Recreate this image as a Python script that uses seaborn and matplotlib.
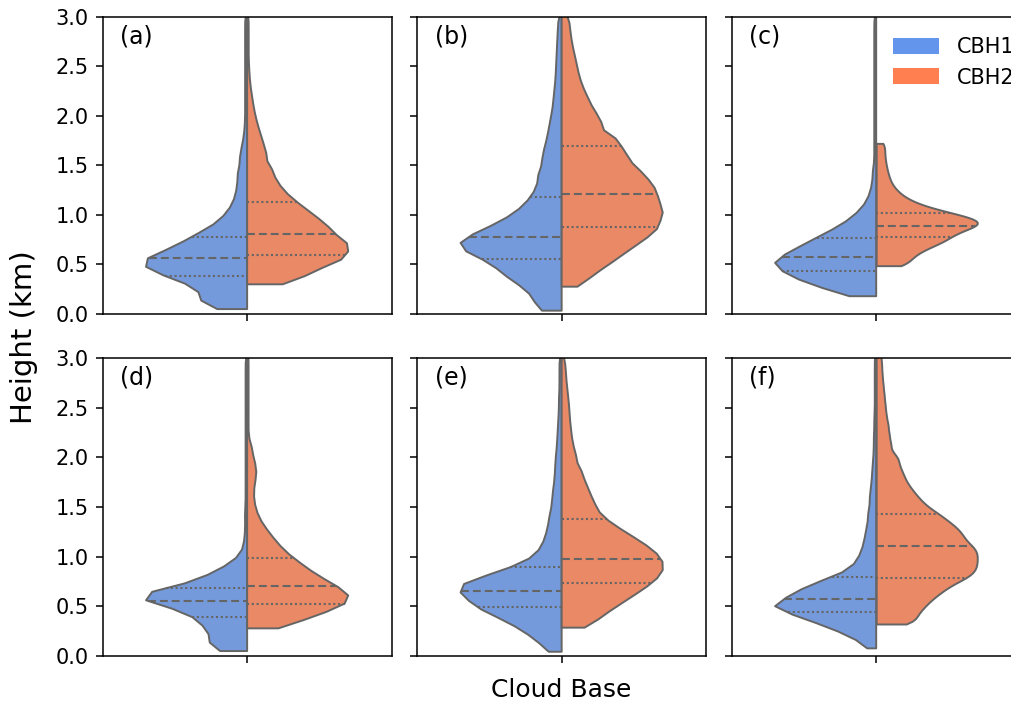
import numpy as np
import pandas as pd
import matplotlib
matplotlib.use("Agg")
import matplotlib.pyplot as plt
from matplotlib.patches import Patch
import seaborn as sns

LAYERS = ["CBH1", "CBH2"]
COLORS = {"CBH1": "cornflowerblue", "CBH2": "coral"}
PANEL_LABELS = ["(a)", "(b)", "(c)", "(d)", "(e)", "(f)"]
Y_TICKS = [0.0, 0.5, 1.0, 1.5, 2.0, 2.5, 3.0]

# Cloud-base heights (km) and the number of observations at each height.
A_CBH1_KM = [0.05, 0.098, 0.145, 0.193, 0.24, 0.288, 0.336, 0.383, 0.429, 0.475, 0.522, 0.568,
             0.621, 0.674, 0.727, 0.78, 0.83, 0.88, 0.93, 0.98, 1.03, 1.08, 1.13, 1.18, 1.23,
             1.28, 1.33, 1.38, 1.43, 1.48,
             1.58, 1.68, 1.78, 1.88, 1.98, 2.08, 2.18, 2.28, 2.38, 2.48, 2.58, 2.68, 2.78, 2.88, 2.98,
             3.20, 3.50, 4.00, 5.00, 6.50, 8.50]
A_CBH1_N = [40, 43, 50, 38, 46, 55, 62, 77, 88, 97, 100, 102,
            91, 79, 68, 57, 46, 36, 29, 24, 20, 16, 14, 12, 11,
            10, 10, 9, 9, 12,
            15, 11, 7, 5, 4, 4, 4, 4, 4, 4, 4, 4, 4, 4, 4,
            3, 2, 2, 1, 1, 1]
A_CBH2_KM = [0.30, 0.35, 0.40, 0.45, 0.50, 0.55, 0.595, 0.65, 0.70, 0.75, 0.807,
             0.86, 0.914, 0.967, 1.02, 1.074, 1.127, 1.18, 1.23, 1.28, 1.33, 1.38, 1.43, 1.48,
             1.58, 1.68, 1.78, 1.88, 1.98, 2.08, 2.18, 2.28, 2.38, 2.48, 2.58, 2.68, 2.78, 2.88, 2.98,
             3.20, 3.50, 4.00, 5.00, 6.50, 8.50]
A_CBH2_N = [50, 48, 58, 69, 79, 90, 100, 102, 102, 98, 93,
            87, 80, 73, 66, 59, 52, 42, 37, 33, 29, 26, 24, 33,
            40, 34, 28, 22, 17, 13, 10, 7, 5, 4, 3, 3, 3, 3, 3,
            3, 2, 2, 1, 1, 1]

B_CBH1_KM = [0.034, 0.086, 0.138, 0.189, 0.241, 0.293, 0.345, 0.397, 0.448, 0.50, 0.552,
             0.598, 0.643, 0.689, 0.734, 0.78, 0.83, 0.879, 0.929, 0.979, 1.028, 1.078, 1.128, 1.177,
             1.227, 1.277, 1.327, 1.377, 1.427, 1.477,
             1.577, 1.677, 1.777, 1.877, 1.977, 2.077, 2.177, 2.277, 2.377, 2.477, 2.577, 2.677,
             2.777, 2.877, 2.977,
             3.20, 3.50, 4.00, 5.00, 6.50, 8.50]
B_CBH1_N = [35, 26, 29, 33, 38, 47, 55, 63, 70, 75, 80,
            87, 95, 101, 100, 97, 86, 76, 66, 55, 48, 42, 37, 32,
            29, 27, 25, 24, 23, 33,
            42, 36, 31, 27, 23, 19, 17, 15, 13, 12, 11, 10, 9, 8, 7,
            10, 8, 8, 6, 4, 3]
B_CBH2_KM = [0.276, 0.326, 0.377, 0.427, 0.478, 0.528, 0.578, 0.629, 0.679, 0.73, 0.78, 0.831, 0.881,
             0.935, 0.99, 1.044, 1.098, 1.153, 1.207,
             1.256, 1.305, 1.354, 1.402, 1.451, 1.50, 1.549, 1.598, 1.646, 1.695, 1.745, 1.795,
             1.895, 1.995, 2.095, 2.195, 2.295, 2.395, 2.495, 2.595, 2.695, 2.795, 2.895, 2.995,
             3.20, 3.50, 4.00, 5.00, 6.50, 8.50]
B_CBH2_N = [20, 20, 27, 33, 40, 46, 53, 59, 66, 72, 79, 85, 92,
            96, 99, 100, 96, 96, 88,
            84, 79, 76, 73, 69, 63, 59, 58, 55, 52, 48, 66,
            76, 66, 54, 46, 38, 32, 28, 24, 20, 17, 15, 13,
            12, 9, 8, 6, 3, 2]

C_CBH1_KM = [0.18, 0.231, 0.283, 0.334, 0.386, 0.437, 0.483, 0.529, 0.575,
             0.624, 0.673, 0.721, 0.77, 0.82, 0.87, 0.92, 0.97, 1.02,
             1.07, 1.12, 1.17, 1.22, 1.27, 1.32, 1.37, 1.42, 1.47,
             1.57, 1.67, 1.77, 1.87, 1.97, 2.07, 2.17, 2.27, 2.37, 2.47, 2.57, 2.67, 2.77, 2.87, 2.97,
             3.20, 3.50, 4.00, 5.00, 6.50, 8.50]
C_CBH1_N = [35, 45, 65, 85, 91, 96, 102, 100, 97,
            89, 79, 70, 62, 52, 42, 33, 26, 20,
            15, 11, 8, 7, 5, 4, 4, 3, 5,
            4, 4, 4, 4, 4, 4, 4, 4, 4, 4, 4, 4, 4, 4, 4,
            4, 3, 3, 2, 1, 1]
C_CBH2_KM = [0.488, 0.536, 0.583, 0.631, 0.679, 0.726, 0.774, 0.831, 0.888, 0.932, 0.976, 1.02,
             1.07, 1.12, 1.17, 1.22, 1.27, 1.32, 1.37, 1.42, 1.47, 1.52, 1.57, 1.62, 1.67, 1.722]
C_CBH2_N = [40, 30, 36, 44, 53, 66, 80, 98, 110, 100, 86, 72,
            56, 40, 30, 24, 19, 15, 14, 12, 11, 10, 9, 9, 8, 12]

D_CBH1_KM = [0.047, 0.096, 0.145, 0.194, 0.243, 0.292, 0.341, 0.39, 0.444, 0.498, 0.552,
             0.595, 0.637, 0.68, 0.73, 0.78, 0.83, 0.88, 0.93, 0.98, 1.03, 1.08, 1.13, 1.18,
             1.23, 1.28, 1.33, 1.38, 1.43, 1.48,
             1.58, 1.68, 1.78, 1.88, 1.98, 2.08, 2.18, 2.28, 2.38, 2.48, 2.58, 2.68, 2.78, 2.88, 2.98,
             3.20, 3.50, 4.00, 5.00, 6.50, 8.50]
D_CBH1_N = [40, 38, 36, 36, 37, 42, 47, 53, 68, 88, 102,
            100, 88, 73, 58, 46, 36, 25, 18, 10, 6, 4, 3, 3,
            2, 2, 2, 2, 2, 3,
            3, 3, 3, 3, 3, 3, 3, 3, 3, 3, 3, 3, 3, 3, 3,
            3, 2, 2, 1, 1, 1]
D_CBH2_KM = [0.276, 0.326, 0.376, 0.425, 0.475, 0.525, 0.57, 0.616, 0.661, 0.706,
             0.752, 0.798, 0.844, 0.89, 0.936, 0.982,
             1.032, 1.082, 1.132, 1.182, 1.232, 1.282, 1.332, 1.382, 1.432, 1.482, 1.532, 1.582,
             1.632, 1.682, 1.732, 1.782, 1.832, 1.882, 1.932, 1.982, 2.032, 2.082, 2.132,
             2.232, 2.332, 2.432, 2.532, 2.632, 2.732, 2.832, 2.932, 3.032,
             3.20, 3.50, 4.00, 5.00, 6.50, 8.50]
D_CBH2_N = [45, 47, 62, 78, 94, 99, 102, 97, 91, 85,
            77, 70, 63, 56, 51, 47,
            42, 37, 32, 28, 24, 20, 16, 13, 11, 9, 8, 7,
            7, 7, 8, 9, 10, 10, 9, 7, 6, 5, 6,
            3, 3, 3, 3, 3, 3, 3, 3, 3,
            3, 2, 2, 1, 1, 1]

E_CBH1_KM = [0.04, 0.09, 0.14, 0.189, 0.239, 0.289, 0.339, 0.388, 0.438, 0.488, 0.544, 0.60, 0.656,
             0.703, 0.75, 0.796, 0.843, 0.89, 0.94,
             0.99, 1.04, 1.09, 1.14, 1.19, 1.24, 1.29, 1.34, 1.39, 1.44, 1.49,
             1.59, 1.69, 1.79, 1.89, 1.99, 2.09, 2.19, 2.29, 2.39, 2.49, 2.59, 2.69, 2.79, 2.89, 2.99,
             3.20, 3.50, 4.00, 5.00, 6.50, 8.50]
E_CBH1_N = [18, 15, 21, 27, 34, 41, 49, 57, 70, 82, 95, 102, 98,
            92, 80, 67, 55, 45, 35,
            26, 22, 19, 17, 15, 14, 13, 12, 11, 10, 14,
            18, 15, 13, 12, 11, 9, 8, 7, 6, 5, 5, 4, 4, 4, 4,
            5, 4, 3, 2, 1, 1]
E_CBH2_KM = [0.283, 0.33, 0.38, 0.43, 0.48, 0.53, 0.58, 0.63, 0.68, 0.73, 0.78, 0.83, 0.88, 0.93, 0.98,
             1.03, 1.08, 1.13, 1.18, 1.23, 1.28, 1.33, 1.376,
             1.43, 1.48, 1.53, 1.58, 1.63, 1.68, 1.73, 1.78, 1.83, 1.89,
             1.99, 2.09, 2.19, 2.29, 2.39, 2.49, 2.59, 2.69, 2.79, 2.89, 2.99,
             3.20, 3.50, 4.00, 5.00, 6.50, 8.50]
E_CBH2_N = [32, 29, 36, 44, 51, 58, 66, 73, 80, 88, 93, 97, 100, 99, 97,
            93, 87, 80, 72, 65, 56, 48, 42,
            38, 35, 32, 30, 28, 26, 24, 22, 20, 29,
            30, 24, 20, 18, 16, 15, 13, 11, 9, 8, 6,
            12, 9, 7, 5, 3, 2]

F_CBH1_KM = [0.074, 0.126, 0.178, 0.23, 0.282, 0.333, 0.385, 0.437, 0.481, 0.524, 0.568,
             0.625, 0.682, 0.74, 0.797,
             0.85, 0.90, 0.95, 1.00, 1.05, 1.10, 1.15, 1.20, 1.25, 1.30, 1.35, 1.40, 1.45, 1.50,
             1.60, 1.70, 1.80, 1.90, 2.00, 2.10, 2.20, 2.30, 2.40, 2.50, 2.60, 2.70, 2.80, 2.90, 3.00,
             3.20, 3.50, 4.00, 5.00, 6.50, 8.50]
F_CBH1_N = [12, 15, 24, 37, 52, 67, 82, 92, 100, 100, 97,
            100, 93, 72, 52,
            30, 25, 21, 18, 16, 14, 13, 12, 11, 10, 9, 8, 8, 11,
            14, 11, 9, 8, 6, 5, 5, 4, 4, 3, 3, 3, 3, 3, 3,
            4, 3, 3, 2, 1, 1]
F_CBH2_KM = [0.32, 0.371, 0.422, 0.473, 0.524, 0.576, 0.627, 0.678, 0.729, 0.78,
             0.827, 0.874, 0.921, 0.969, 1.016, 1.063, 1.11,
             1.163, 1.217, 1.27, 1.323, 1.377, 1.43,
             1.48, 1.53, 1.58, 1.63, 1.68, 1.73, 1.78, 1.83, 1.88, 1.93, 1.98, 2.03,
             2.13, 2.23, 2.33, 2.43, 2.53, 2.63, 2.73, 2.83, 2.93, 3.03]
F_CBH2_N = [50, 38, 43, 48, 53, 59, 65, 72, 80, 90,
            92, 95, 97, 97, 96, 95, 97,
            97, 94, 89, 83, 76, 66,
            54, 49, 44, 40, 36, 32, 29, 28, 25, 23, 21, 28,
            30, 26, 24, 20, 18, 16, 14, 12, 11, 10]

PANELS = [
    (A_CBH1_KM, A_CBH1_N, A_CBH2_KM, A_CBH2_N),
    (B_CBH1_KM, B_CBH1_N, B_CBH2_KM, B_CBH2_N),
    (C_CBH1_KM, C_CBH1_N, C_CBH2_KM, C_CBH2_N),
    (D_CBH1_KM, D_CBH1_N, D_CBH2_KM, D_CBH2_N),
    (E_CBH1_KM, E_CBH1_N, E_CBH2_KM, E_CBH2_N),
    (F_CBH1_KM, F_CBH1_N, F_CBH2_KM, F_CBH2_N),
]

# Gaussian kernel width used for every density estimate (km)
KDE_BANDWIDTH_KM = 0.055

# Dash patterns (in line widths) for the quartile and median lines
QUARTILE_DASHES = (1.0, 1.3)
MEDIAN_DASHES = (3.8, 1.9)


def kde_bandwidth(kde):
    """Fixed kernel width, expressed as a factor of the sample spread."""
    return KDE_BANDWIDTH_KM / kde.dataset.std(ddof=1)


def long_table(h1, n1, h2, n2):
    heights = np.concatenate([np.repeat(h1, n1), np.repeat(h2, n2)])
    layers = ["CBH1"] * int(np.sum(n1)) + ["CBH2"] * int(np.sum(n2))
    return pd.DataFrame({"group": "", "height": heights, "layer": layers})


plt.rcParams["axes.linewidth"] = 1.1

fig, axes = plt.subplots(2, 3, figsize=(10.12, 7.01), dpi=100, sharey=True)
fig.subplots_adjust(left=0.1015, right=1.0085, bottom=0.0646, top=0.9762,
                    wspace=0.089, hspace=0.149)

for ax, label, (h1, n1, h2, n2) in zip(axes.flat, PANEL_LABELS, PANELS):
    table = long_table(h1, n1, h2, n2)
    sns.violinplot(data=table, x="group", y="height", hue="layer",
                   hue_order=LAYERS, palette=COLORS, split=True,
                   inner="quart", cut=0, density_norm="width", width=0.7,
                   linewidth=1.4, inner_kws={"linewidth": 1.5},
                   bw_method=kde_bandwidth, legend=False, ax=ax)
    # quartile lines come in (q25, median, q75) order for each half
    for i, line in enumerate(ax.lines):
        line.set_dashes(MEDIAN_DASHES if i % 3 == 1 else QUARTILE_DASHES)
    ax.set_ylim(0, 3)
    ax.set_yticks(Y_TICKS)
    ax.set_xticks([0])
    ax.set_xticklabels([""])
    ax.set_xlabel("")
    ax.set_ylabel("")
    ax.tick_params(labelsize=15, length=5, width=1.1, pad=5)
    ax.text(0.06, 0.935, label, transform=ax.transAxes, fontsize=17,
            ha="left", va="center")

handles = [Patch(facecolor=COLORS[k], edgecolor="none", label=k) for k in LAYERS]
axes[0, 2].legend(handles=handles, loc="upper left", bbox_to_anchor=(0.493, 0.994),
                  frameon=False, fontsize=15, handlelength=2.2, handleheight=0.8,
                  handletextpad=0.85, labelspacing=0.5)

fig.text(0.024, 0.519, "Height (km)", rotation=90, fontsize=21, ha="center", va="center")
fig.text(0.5545, 0.006, "Cloud Base", fontsize=18, ha="center", va="baseline")

fig.savefig("out.png", dpi=100)
